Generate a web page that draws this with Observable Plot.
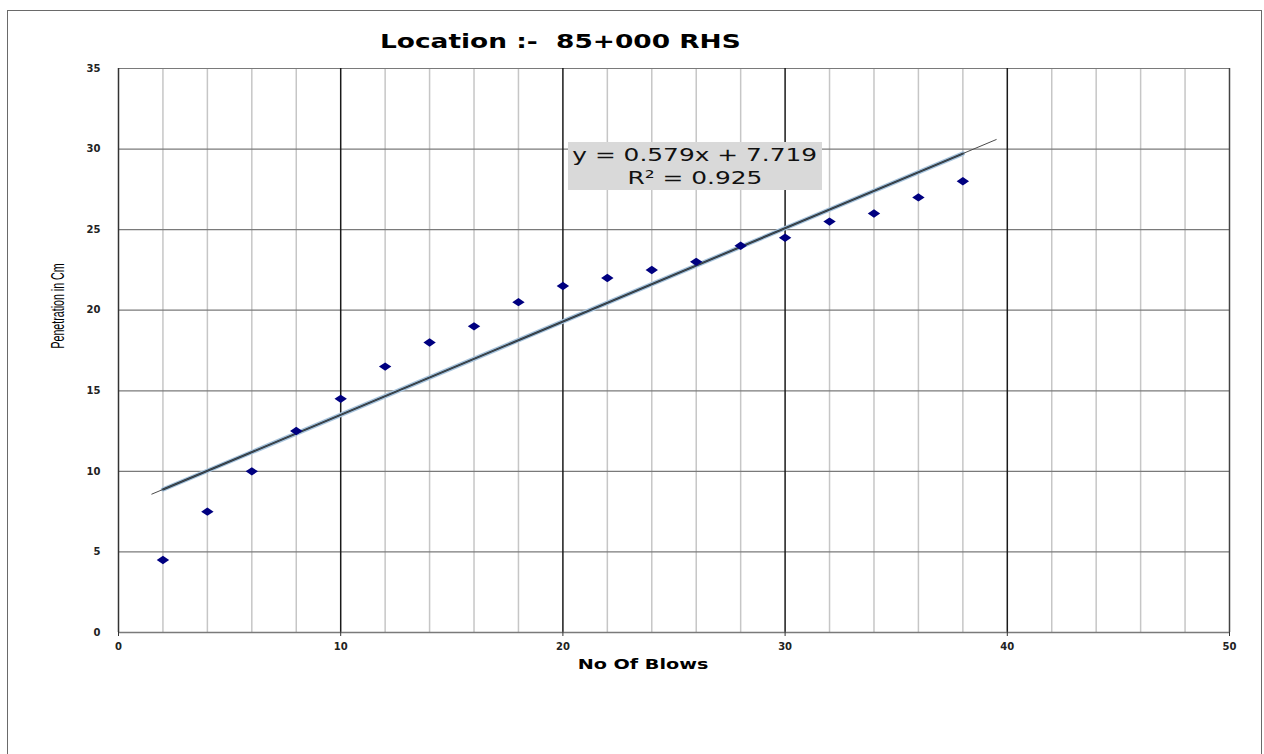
<!DOCTYPE html>
<html><head><meta charset="utf-8">
<script src="https://cdn.jsdelivr.net/npm/d3@7"></script>
<script src="https://cdn.jsdelivr.net/npm/@observablehq/plot@0.6"></script>
<style>
body{margin:0;background:#fff;width:1264px;height:754px;overflow:hidden;position:relative;font-family:"DejaVu Sans",Verdana,sans-serif}
#frame{position:absolute;left:7px;top:10px;width:1255px;height:760px;border:1.5px solid #6a6a6a;box-sizing:border-box}
#chart{position:absolute;left:0;top:0}
.lbl{position:absolute;white-space:nowrap}
#title{left:380px;top:29px;font-weight:bold;font-size:20px;color:#000;transform-origin:0 50%;transform:scaleX(1.32)}
#xlab{left:643px;top:656px;font-weight:bold;font-size:14px;transform:translateX(-50%) scaleX(1.37)}
#ylab{left:58px;top:306px;transform:translate(-50%,-50%) rotate(-90deg) scaleX(0.56);font-family:"Liberation Sans",Arial,sans-serif;font-size:19px;color:#000}
#eq{left:568px;top:142px;width:254px;height:48px;background:#d9d9d9;text-align:center;font-size:18px;line-height:23px;padding-top:1px;box-sizing:border-box;color:#111}
#eq span{display:inline-block;transform:scaleX(1.38)}
#chart text{font-family:"DejaVu Sans",Verdana,sans-serif}
</style></head>
<body>
<div id="frame"></div>
<div id="chart"></div>
<div class="lbl" id="title">Location :-&nbsp; 85+000 RHS</div>
<div class="lbl" id="xlab">No Of Blows</div>
<div class="lbl" id="ylab">Penetration in Cm</div>
<div class="lbl" id="eq"><span>y = 0.579x + 7.719</span><br><span>R² = 0.925</span></div>
<script>
const blows = [2,4,6,8,10,12,14,16,18,20,22,24,26,28,30,32,34,36,38];
const penetration = [4.5,7.5,10,12.5,14.5,16.5,18,19,20.5,21.5,22,22.5,23,24,24.5,25.5,26,27,28];
const slope = 0.579, intercept = 7.719;
const trendXThick = [2, 38];
const trendXThin = [1.5, 39.5];
const xTicks = [0,10,20,30,40,50];
const yTicks = [0,5,10,15,20,25,30,35];
const minorX = d3.range(2, 50, 2).filter(v => v % 10 !== 0);
const majorX = [10,20,30,40];

const pts = blows.map((b,i)=>({x:b,y:penetration[i]}));
const thick = trendXThick.map(x=>({x,y:slope*x+intercept}));
const thin = trendXThin.map(x=>({x,y:slope*x+intercept}));

const flatDiamond = {draw(ctx){ const w=6.2,h=4.2; ctx.moveTo(0,-h); ctx.lineTo(w,0); ctx.lineTo(0,h); ctx.lineTo(-w,0); ctx.closePath(); }};

const chart = Plot.plot({
  width:1264, height:754,
  marginLeft:118, marginRight:35, marginTop:68, marginBottom:122,
  x:{domain:[0,50]}, y:{domain:[0,35]},
  style:{background:"transparent"},
  marks:[
    Plot.ruleX(minorX,{stroke:"#c6c6c6",strokeWidth:1.5}),
    Plot.ruleY(yTicks.filter(v=>v>0),{stroke:"#7a7a7a",strokeWidth:1.2}),
    Plot.ruleX(majorX,{stroke:"#1a1a1a",strokeWidth:1.5}),
    Plot.ruleX([50],{stroke:"#444",strokeWidth:1.5}),
    Plot.ruleY([0],{stroke:"#7a7a7a",strokeWidth:1.5}),
    Plot.ruleX([0],{stroke:"#333",strokeWidth:1.5}),
    Plot.axisX({ticks:xTicks,tickSize:4,tickPadding:6,label:null,fontSize:10,fontWeight:"bold",stroke:"#333",fill:"#222"}),
    Plot.axisY({ticks:yTicks,tickSize:0,tickPadding:18,label:null,fontSize:10,fontWeight:"bold",fill:"#222"}),
    Plot.line(thick,{x:"x",y:"y",stroke:"#a9c4dc",strokeWidth:4.5}),
    Plot.line(thick,{x:"x",y:"y",stroke:"#1d3346",strokeWidth:2}),
    Plot.line(thin,{x:"x",y:"y",stroke:"#4a4a4a",strokeWidth:1}),
    Plot.dot(pts,{x:"x",y:"y",symbol:flatDiamond,fill:"#000080",stroke:"none"})
  ]
});
document.getElementById("chart").appendChild(chart);
</script>
</body></html>
